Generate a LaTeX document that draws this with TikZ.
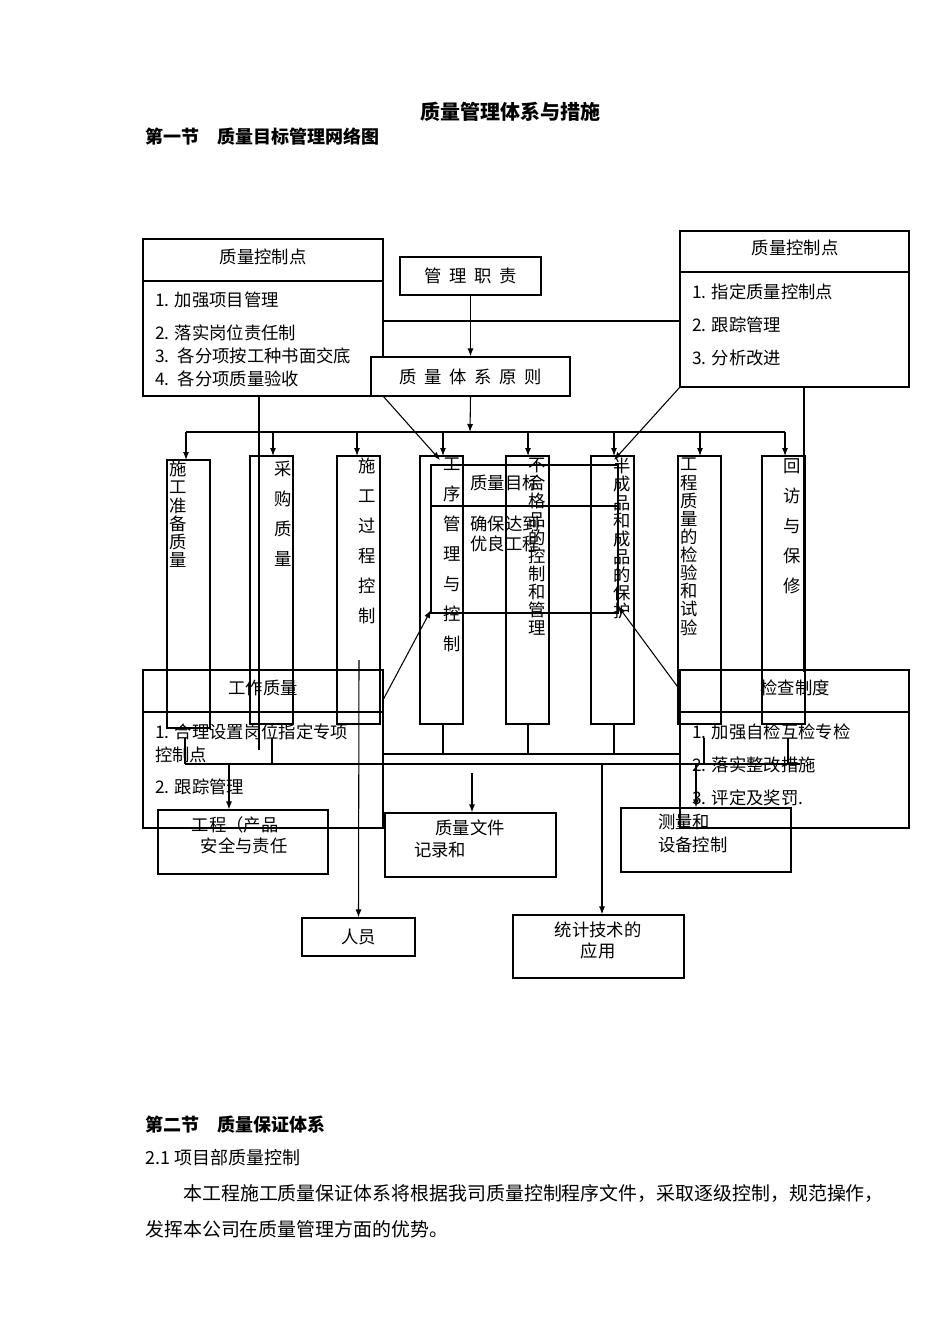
\documentclass[tikz,border=0pt]{standalone}
\usepackage{fontspec}
\setmainfont{Noto Sans CJK SC}
\usetikzlibrary{arrows.meta}
\begin{document}
\begin{tikzpicture}[x=0.75pt,y=-0.75pt,
  bx/.style={draw,line width=0.9pt},
  ln/.style={line width=0.8pt},
  ar/.style={line width=0.8pt,-{Latex[length=6pt,width=4.5pt]}},
  tx/.style={inner sep=0pt,font=\fontsize{13}{15}\selectfont},
  txl/.style={tx,anchor=west},
  vt/.style={inner sep=0pt,anchor=north,align=center,font=\fontsize{13}{13.6}\selectfont},
  vs/.style={inner sep=0pt,anchor=north,align=center,font=\fontsize{13}{22.5}\selectfont}]
\useasboundingbox[fill=white] (0,0) rectangle (950,1344);
% titles
\node[tx,font=\fontsize{15}{17}\bfseries\selectfont] (title) at (510,112) {质量管理体系与措施};
\node[txl,font=\fontsize{13.5}{15}\bfseries\selectfont] (sec1) at (145,137) {第一节\quad 质量目标管理网络图};
% top-left box
\draw[bx] (143,239) rectangle (383,396); \draw[bx] (143,281) -- (383,281);
\coordinate (LB) at (383,396);
\node[tx] (lh) at (263,257) {质量控制点};
\node[txl] at (155,300) {1. 加强项目管理};
\node[txl] at (155,333) {2. 落实岗位责任制};
\node[txl] at (155,356) {3.\, 各分项按工种书面交底};
\node[txl] at (155,379) {4.\, 各分项质量验收};
% top-right box
\draw[bx] (680,231) rectangle (909,387); \draw[bx] (680,272) -- (909,272);
\node[tx] (rh) at (795,248) {质量控制点};
\node[txl] at (692,292) {1. 指定质量控制点};
\node[txl] at (692,325) {2. 跟踪管理};
\node[txl] at (692,358) {3. 分析改进};
\draw[ln] (383,321) -- (680,321);
% center boxes
\node[bx,minimum width=141*0.75pt,minimum height=38*0.75pt,font=\fontsize{13}{15}\selectfont] (mz) at (470.5,276) {管\ \ 理\ \ 职\ \ 责};
\node[bx,fill=white,minimum width=199*0.75pt,minimum height=39*0.75pt,font=\fontsize{13}{15}\selectfont] (yz) at (470.5,376.5) {质\ \ 量\ \ 体\ \ 系\ \ 原\ \ 则};
\draw[ar] (mz.south) -- (yz.north);
\coordinate (bus) at (470,432);
\draw[ar] (yz.south) -- (bus);
\draw[ln] (186,432) -- (785,432);
% columns
\foreach \xl/\xa/\t in {167/186/460,250/273/456,337/357/456,420/443/456,506/528/456,591/614/456,678/700/456,762/785/456}{
  \draw[bx] (\xl,\t) rectangle ++(43,268);
  \draw[ar] (\xa,432) -- (\xa,\t);
}
\node[vt] (c1) at (178,461) {施\\工\\准\\备\\质\\量};
\node[vs] (c2) at (283,461) {采\\购\\质\\量};
\node[vs] (c3) at (367,458) {施\\工\\过\\程\\控\\制};
\node[vs] (c4) at (452,458) {工\\序\\管\\理\\与\\控\\制};
\node[vt] (c5) at (537,458) {不\\合\\格\\品\\的\\控\\制\\和\\管\\理};
\node[vt] (c6) at (622,458) {半\\成\\品\\和\\成\\品\\的\\保\\护};
\node[vt] (c7) at (689,458) {工\\程\\质\\量\\的\\检\\验\\和\\试\\验};
\node[vs] (c8) at (792,458) {回\\访\\与\\保\\修};
% overlay target box
\draw[bx] (431,465) rectangle (618,613); \draw[bx] (431,506) -- (618,506);
\node[tx] (mb) at (505,483) {质量目标};
\node[tx,align=left] (mb2) at (505,534) {确保达到\\优良工程};
% diagonals
\draw[ar] (LB) -- (440,460);
\draw[ar] (680,387) -- (614,460);
\draw[ln] (259,396) -- (259,750);
\draw[ln] (804,387) -- (804,672);
% lower boxes
\draw[bx] (143,670) rectangle (383,828); \draw[bx] (143,712) -- (383,712);
\node[tx] (gz) at (263,688) {工作质量};
\node[txl] at (155,732) {1. 合理设置岗位指定专项};
\node[txl] at (155,755) {控制点};
\node[txl] at (155,787) {2. 跟踪管理};
\draw[bx] (680,670) rectangle (909,828); \draw[bx] (680,712) -- (909,712);
\node[tx] (jc) at (795,688) {检查制度};
\node[txl] at (692,732) {1. 加强自检互检专检};
\node[txl] at (692,765) {2. 落实整改措施};
\node[txl] at (692,798) {3. 评定及奖罚.};
\draw[ar] (383,700) -- (431,610);
\draw[ar] (680,690) -- (618,606);
% bottom lines
\draw[ln] (383,754) -- (680,754);
\foreach \x in {443,528,614}{\draw[ln] (\x,724) -- (\x,754);}
\draw[ln] (185,764) -- (800,764);
\foreach \x in {185,272,704,788}{\draw[ln] (\x,738) -- (\x,764);}
% bottom boxes
\node[bx,minimum width=170*0.75pt,minimum height=64*0.75pt] (b1) at (243,842) {};
\node[tx] at (235,825) {工程（产品};
\node[tx] at (244,846) {安全与责任};
\node[bx,minimum width=171*0.75pt,minimum height=64*0.75pt] (b2) at (470.5,845) {};
\node[tx] at (470,828) {质量文件};
\node[tx] at (440,850) {记录和};
\node[bx,minimum width=170*0.75pt,minimum height=64*0.75pt] (b3) at (706,840) {};
\node[txl] at (658,822) {测量和};
\node[txl] at (658,845) {设备控制};
\node[bx,minimum width=113*0.75pt,minimum height=38*0.75pt,font=\fontsize{13}{15}\selectfont] (b4) at (358.5,937) {人员};
\node[bx,minimum width=171*0.75pt,minimum height=63*0.75pt] (b5) at (598.5,946.5) {};
\node[tx] at (598,930) {统计技术的};
\node[tx] at (598,951) {应用};
\draw[ar] (229,764) -- (b1.north -| 229,0);
\draw[ar] (472,773) -- (b2.north -| 472,0);
\draw[ar] (602,764) -- (b5.north -| 602,0);
\draw[ar] (696,764) -- (b3.north -| 696,0);
\draw[ar] (359,660) -- (b4.north);
% bottom text
\node[txl,font=\fontsize{13.5}{15}\bfseries\selectfont] at (145,1125) {第二节\quad 质量保证体系};
\node[txl,font=\fontsize{13.5}{15}\selectfont] at (145,1158) {2.1 项目部质量控制};
\node[txl,font=\fontsize{14.2}{15}\selectfont] at (183,1193) {本工程施工质量保证体系将根据我司质量控制程序文件，采取逐级控制，规范操作，};
\node[txl,font=\fontsize{14.2}{15}\selectfont] at (145,1229) {发挥本公司在质量管理方面的优势。};
\end{tikzpicture}
\end{document}
